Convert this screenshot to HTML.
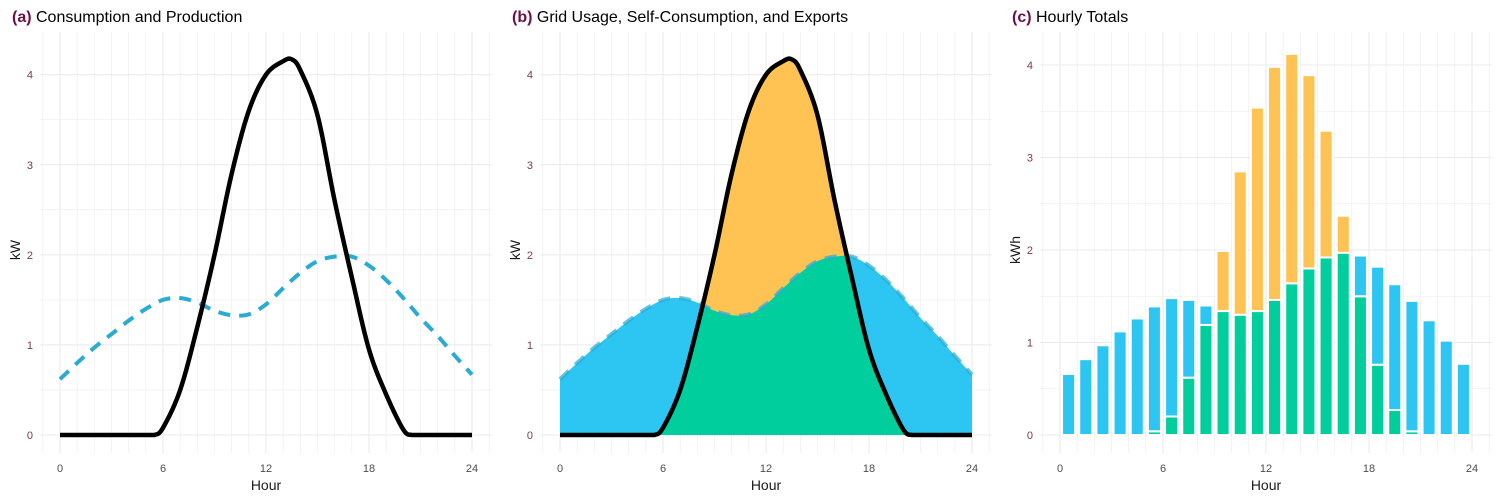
<!DOCTYPE html>
<html><head><meta charset="utf-8">
<style>
html,body{margin:0;padding:0;background:#fff;}
svg{display:block;font-family:"Liberation Sans",Arial,sans-serif;}
</style></head>
<body>
<svg id="chart" width="1500" height="500" viewBox="0 0 1500 500" xmlns="http://www.w3.org/2000/svg"></svg>
<script>
// ---- data ----
const hours = [0,1,2,3,4,5,6,7,8,9,10,11,12,13,14,15,16,17,18,19,20,21,22,23,24];
const consumption = [0.62,0.80,0.97,1.12,1.27,1.40,1.50,1.52,1.47,1.38,1.33,1.34,1.45,1.63,1.80,1.93,1.98,1.98,1.88,1.72,1.52,1.30,1.10,0.88,0.67];
const prodHours = [0,1,2,3,4,5,5.5,6,7,8,9,10,11,12,13,13.5,14,15,16,17,18,19,20,20.5,21,22,23,24];
const production = [0,0,0,0,0,0,0,0.08,0.5,1.2,2.0,2.9,3.6,4.0,4.15,4.17,4.05,3.55,2.6,1.75,0.95,0.45,0.06,0,0,0,0,0];
const barHours = [0,1,2,3,4,5,6,7,8,9,10,11,12,13,14,15,16,17,18,19,20,21,22,23];
const selfCons = [0,0,0,0,0,0.04,0.2,0.62,1.19,1.34,1.30,1.34,1.46,1.64,1.80,1.92,1.97,1.50,0.76,0.27,0.04,0,0,0];
const gridUse = [0.66,0.82,0.97,1.12,1.26,1.35,1.28,0.84,0.21,0,0,0,0,0,0,0,0,0.44,1.06,1.36,1.41,1.24,1.02,0.77];
const exports_ = [0,0,0,0,0,0,0,0,0,0.65,1.55,2.20,2.52,2.48,2.09,1.37,0.40,0,0,0,0,0,0,0];
const xTicks = [0,6,12,18,24];
const yTicksAB = [0,1,2,3,4];
const yTicksC = [0,1,2,3,4];

const C_BLUE="#2DC6F2", C_GREEN="#00CF9D", C_ORANGE="#FFC353", C_DASH="#29ABD2";
const svg=document.getElementById('chart');
const NS="http://www.w3.org/2000/svg";
function mk(tag,attrs,parent){const e=document.createElementNS(NS,tag);for(const k in attrs)e.setAttribute(k,attrs[k]);(parent||svg).appendChild(e);return e;}

// Catmull-Rom sampling in data space
function sample(xs,ys,step){
  const out=[];
  for(let i=0;i<xs.length-1;i++){
    const p0=[xs[Math.max(0,i-1)],ys[Math.max(0,i-1)]],p1=[xs[i],ys[i]],p2=[xs[i+1],ys[i+1]],p3=[xs[Math.min(xs.length-1,i+2)],ys[Math.min(xs.length-1,i+2)]];
    const n=Math.max(2,Math.ceil((p2[0]-p1[0])/step));
    for(let j=0;j<n;j++){
      const t=j/n,t2=t*t,t3=t2*t;
      const f=(a,b,c,d)=>0.5*((2*b)+(-a+c)*t+(2*a-5*b+4*c-d)*t2+(-a+3*b-3*c+d)*t3);
      out.push([f(p0[0],p1[0],p2[0],p3[0]),Math.max(0,f(p0[1],p1[1],p2[1],p3[1]))]);
    }
  }
  out.push([xs[xs.length-1],ys[ys.length-1]]);
  return out;
}
function interp(pts,x){
  for(let i=0;i<pts.length-1;i++){if(x>=pts[i][0]&&x<=pts[i+1][0]){const t=(x-pts[i][0])/((pts[i+1][0]-pts[i][0])||1);return pts[i][1]+t*(pts[i+1][1]-pts[i][1]);}}
  return pts[pts.length-1][1];
}

function panel(ox,yTop4,title,letter,ylab,yTicks,key){
  const g=mk('g',{});
  const x0=ox+60,x1=ox+472;
  const xs=h=>x0+(x1-x0)*h/24;
  const y0=435, ys=v=>y0-(y0-yTop4)*v/4;
  const grid=mk('g',{},g);
  for(let h=-1;h<=25;h++){const x=xs(h);if(x<ox+40||x>ox+492)continue;
    mk('line',{x1:x,x2:x,y1:32,y2:453,stroke:'#ebebeb','stroke-width':h%6==0?1.1:0.6},grid);}
  for(let v=0;v<=4.3;v+=0.5){const y=ys(v);if(y<32)continue;
    mk('line',{x1:ox+40,x2:ox+492,y1:y,y2:y,stroke:'#ebebeb','stroke-width':v%1==0?1.1:0.6},grid);}
  xTicks.forEach(t=>{const e=mk('text',{x:xs(t),y:472,'text-anchor':'middle','font-size':11,fill:'#4d4d4d'},g);e.textContent=t;
    });
  yTicks.forEach(t=>{const e=mk('text',{x:ox+33,y:ys(t)+4,'text-anchor':'end','font-size':11,fill:'#7a3a4a'},g);e.textContent=t;
    });
  const xl=mk('text',{x:(x0+x1)/2,y:490,'text-anchor':'middle','font-size':14,fill:'#1a1a1a',},g);xl.textContent='Hour';
  const yl=mk('text',{x:0,y:0,transform:`translate(${ox+20},250) rotate(-90)`,'text-anchor':'middle','font-size':14,fill:'#1a1a1a',},g);yl.textContent=ylab;
  const tt=mk('text',{x:ox+12,y:22,'font-size':16,fill:'#000',},g);
  const b=mk('tspan',{'font-weight':'bold',fill:'#6B1048'},tt);b.textContent=letter+' ';
  const r=mk('tspan',{},tt);r.textContent=title;
  return {g,xs,ys};
}
function pathOf(pts,xs,ys){return pts.map((p,i)=>(i?'L':'M')+xs(p[0]).toFixed(2)+','+ys(p[1]).toFixed(2)).join('');}

const consPts=sample(hours,consumption,0.05);
const prodPts=sample(prodHours,production,0.05);

// Panel a
{
  const P=panel(0,74.7,'Consumption and Production','(a)','kW',yTicksAB,'a');
  const l1=mk('path',{d:pathOf(consPts,P.xs,P.ys),fill:'none',stroke:C_DASH,'stroke-width':4,'stroke-dasharray':'12,9'},P.g);
  
  const l2=mk('path',{d:pathOf(prodPts,P.xs,P.ys),fill:'none',stroke:'#000','stroke-width':4.5,'stroke-linejoin':'round'},P.g);
  
}
// Panel b
{
  const P=panel(500,74.7,'Grid Usage, Self-Consumption, and Exports','(b)','kW',yTicksAB,'b');
  const N=480,fine=[];
  for(let i=0;i<=N;i++){const h=24*i/N;fine.push([h,interp(consPts,h),interp(prodPts,h)]);}
  const area=(top,bot)=>{let d='';fine.forEach((f,i)=>{d+=(i?'L':'M')+P.xs(f[0]).toFixed(2)+','+P.ys(top(f)).toFixed(2);});
    for(let i=fine.length-1;i>=0;i--){const f=fine[i];d+='L'+P.xs(f[0]).toFixed(2)+','+P.ys(bot(f)).toFixed(2);}return d+'Z';};
  const a1=mk('path',{d:area(f=>f[1],f=>0),fill:C_BLUE},P.g);
  
  const a2=mk('path',{d:area(f=>Math.max(f[1],f[2]),f=>f[1]),fill:C_ORANGE},P.g);
  
  const a3=mk('path',{d:area(f=>Math.min(f[1],f[2]),f=>0),fill:C_GREEN},P.g);
  
  const l1=mk('path',{d:pathOf(consPts,P.xs,P.ys),fill:'none',stroke:C_DASH,'stroke-width':4,'stroke-dasharray':'12,9',opacity:0.7},P.g);
  
  const l2=mk('path',{d:pathOf(prodPts,P.xs,P.ys),fill:'none',stroke:'#000','stroke-width':4.5,'stroke-linejoin':'round'},P.g);
  
}
// Panel c
{
  const P=panel(1000,65,'Hourly Totals','(c)','kWh',yTicksC,'c');
  const bw=P.xs(0.76)-P.xs(0);
  barHours.forEach((h,i)=>{
    const cx=P.xs(h+0.5);
    const segs=[[selfCons[i],C_GREEN,'bar-self-consumption'],[gridUse[i],C_BLUE,'bar-grid-usage'],[exports_[i],C_ORANGE,'bar-export']];
    let base=0;
    segs.forEach(s=>{if(s[0]<=0)return;
      const yT=P.ys(base+s[0]),yB=P.ys(base);
      const r=mk('rect',{x:cx-bw/2,y:yT,width:bw,height:yB-yT,fill:s[1],stroke:'#fff','stroke-width':2},P.g);
      
      base+=s[0];});
  });
}
</script>
</body></html>
